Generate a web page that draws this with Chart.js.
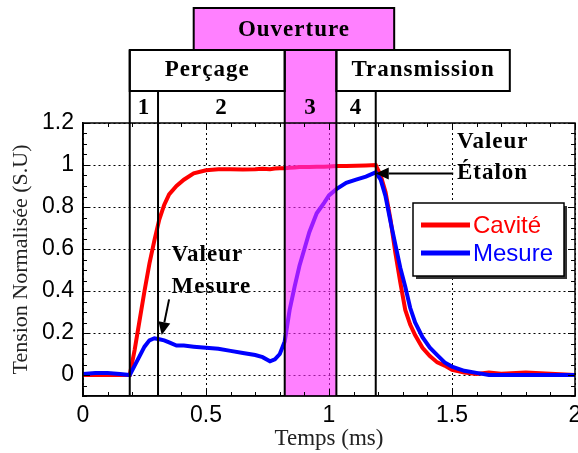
<!DOCTYPE html>
<html>
<head>
<meta charset="utf-8">
<script src="https://cdn.jsdelivr.net/npm/chart.js@4.4.0/dist/chart.umd.min.js"></script>
<style>
body { margin: 0; background: #fff; overflow: hidden; }
#wrap { width: 600px; height: 453px; }
</style>
</head>
<body>
<div id="wrap"><canvas id="tension"></canvas></div>
<script>
// temps (ms) et tensions normalisées
var temps  = [0, 0.05, 0.1, 0.15, 0.19, 0.21, 0.23, 0.25, 0.27, 0.29, 0.31, 0.33, 0.35, 0.38, 0.41, 0.45, 0.5, 0.55, 0.6, 0.65, 0.7, 0.73, 0.76, 0.78, 0.8, 0.82, 0.84, 0.86, 0.88, 0.9, 0.92, 0.95, 0.98, 1.0, 1.03, 1.07, 1.11, 1.15, 1.19, 1.21, 1.23, 1.25, 1.27, 1.29, 1.31, 1.33, 1.35, 1.38, 1.41, 1.44, 1.47, 1.5, 1.55, 1.6, 1.65, 1.7, 1.8, 1.9, 2.0];
var cavite = [0, 0, 0, 0, 0, 0.12, 0.26, 0.40, 0.53, 0.64, 0.74, 0.81, 0.86, 0.90, 0.93, 0.96, 0.975, 0.98, 0.98, 0.978, 0.98, 0.982, 0.98, 0.983, 0.985, 0.985, 0.987, 0.988, 0.99, 0.99, 0.99, 0.992, 0.992, 0.993, 0.995, 0.995, 0.997, 0.998, 1.0, 0.95, 0.87, 0.74, 0.58, 0.44, 0.31, 0.24, 0.19, 0.13, 0.09, 0.06, 0.045, 0.025, 0.012, 0.005, 0.012, 0.006, 0.012, 0.006, 0];
var mesure = [0.005, 0.01, 0.01, 0.005, 0, 0.045, 0.09, 0.135, 0.165, 0.175, 0.17, 0.165, 0.155, 0.14, 0.14, 0.135, 0.13, 0.125, 0.115, 0.105, 0.095, 0.085, 0.065, 0.075, 0.1, 0.16, 0.31, 0.42, 0.52, 0.6, 0.68, 0.77, 0.82, 0.855, 0.885, 0.915, 0.93, 0.945, 0.965, 0.93, 0.85, 0.73, 0.62, 0.51, 0.42, 0.32, 0.25, 0.18, 0.13, 0.095, 0.06, 0.04, 0.02, 0.01, 0, 0, 0, 0, 0];

var xTicks = [0, 0.5, 1, 1.5, 2];
var yTicks = [0, 0.2, 0.4, 0.6, 0.8, 1, 1.2];
var yTickLabels = ['0', '0.2', '0.4', '0.6', '0.8', '1', '1.2'];

// limites des phases 1 | 2 | 3 | 4 (ms)
var phases = [0.19, 0.305, 0.82, 1.03, 1.19];
var phaseNums = ['1', '2', '3', '4'];
var ouverture = [0.45, 1.265];
var percage = [0.19, 0.82];
var transmission = [1.03, 1.735];

var serif = "'Liberation Serif', 'DejaVu Serif', serif";
var sans = "'Liberation Sans', Arial, sans-serif";

function pts(ys) {
    var out = [];
    for (var i = 0; i < temps.length; i++) out.push({x: temps[i], y: ys[i]});
    return out;
}

var decor = {
    id: 'decor',
    afterDatasetsDraw: function(chart) {
        var ctx = chart.ctx, a = chart.chartArea;
        var sx = chart.scales.x, sy = chart.scales.y;
        var px = function(v) { return sx.getPixelForValue(v); };
        var py = function(v) { return sy.getPixelForValue(v); };
        var r0 = 8, r1 = 50, r2 = 91, r3 = a.top;

        ctx.save();
        // bande rose (ouverture)
        ctx.fillStyle = 'rgba(255,43,255,0.6)';
        ctx.beginPath();
        ctx.rect(px(ouverture[0]), r0, px(ouverture[1]) - px(ouverture[0]), r1 - r0);
        ctx.rect(px(phases[2]), r1, px(phases[3]) - px(phases[2]), a.bottom - r1);
        ctx.fill();

        // cadre
        ctx.strokeStyle = '#000';
        ctx.lineWidth = 1.5;
        ctx.strokeRect(a.left, a.top, a.right - a.left, a.bottom - a.top);

        // petites graduations vers l'intérieur
        ctx.lineWidth = 1;
        ctx.beginPath();
        for (var t = 0; t <= 2.0001; t += 0.1) {
            var X = Math.round(px(t)) + 0.5;
            var L = (Math.abs(t * 2 - Math.round(t * 2)) < 1e-6) ? 7 : 4;
            ctx.moveTo(X, a.bottom); ctx.lineTo(X, a.bottom - L);
            ctx.moveTo(X, a.top); ctx.lineTo(X, a.top + L);
        }
        for (var v = -0.1; v <= 1.2001; v += 0.05) {
            var Y = Math.round(py(v)) + 0.5;
            var k = Math.round(v * 100);
            var L2 = (k % 20 === 0) ? 7 : 4;
            ctx.moveTo(a.left, Y); ctx.lineTo(a.left + L2, Y);
            ctx.moveTo(a.right, Y); ctx.lineTo(a.right - L2, Y);
        }
        ctx.stroke();

        // boîtes d'en-tête
        ctx.lineWidth = 2;
        ctx.strokeRect(px(ouverture[0]), r0, px(ouverture[1]) - px(ouverture[0]), r1 - r0);
        ctx.strokeRect(px(percage[0]), r1, px(percage[1]) - px(percage[0]), r2 - r1);
        ctx.strokeRect(px(transmission[0]), r1, px(transmission[1]) - px(transmission[0]), r2 - r1);

        // lignes verticales des phases
        ctx.beginPath();
        var tops = [r1, r2, r1, r1, r2];
        for (var i = 0; i < phases.length; i++) {
            var xx = px(phases[i]);
            ctx.moveTo(xx, tops[i]); ctx.lineTo(xx, a.bottom);
        }
        ctx.stroke();

        // textes d'en-tête
        ctx.fillStyle = '#000';
        ctx.textAlign = 'center';
        ctx.textBaseline = 'middle';
        ctx.letterSpacing = '1px';
        ctx.font = 'bold 23px ' + serif;
        ctx.fillText('Ouverture', (px(ouverture[0]) + px(ouverture[1])) / 2, (r0 + r1) / 2 + 1);
        ctx.fillText('Perçage', (px(percage[0]) + px(percage[1])) / 2, (r1 + r2) / 2);
        ctx.fillText('Transmission', (px(transmission[0]) + px(transmission[1])) / 2, (r1 + r2) / 2);
        for (var j = 0; j < phaseNums.length; j++) {
            ctx.fillText(phaseNums[j], (px(phases[j]) + px(phases[j + 1])) / 2, (r2 + r3) / 2 + 1);
        }

        // annotations
        ctx.textAlign = 'left';
        ctx.fillText('Valeur', px(0.36), py(0.57));
        ctx.fillText('Mesure', px(0.36), py(0.42));
        ctx.fillText('Valeur', px(1.52), py(1.11));
        ctx.fillText('Étalon', px(1.52), py(0.96));
        ctx.letterSpacing = '0px';

        function arrow(x1, y1, x2, y2) {
            var ang = Math.atan2(y2 - y1, x2 - x1);
            var hl = 13, hw = 6;
            ctx.beginPath();
            ctx.moveTo(x1, y1);
            ctx.lineTo(x2 - hl * Math.cos(ang), y2 - hl * Math.sin(ang));
            ctx.stroke();
            ctx.beginPath();
            ctx.moveTo(x2, y2);
            ctx.lineTo(x2 - hl * Math.cos(ang) + hw * Math.sin(ang), y2 - hl * Math.sin(ang) - hw * Math.cos(ang));
            ctx.lineTo(x2 - hl * Math.cos(ang) - hw * Math.sin(ang), y2 - hl * Math.sin(ang) + hw * Math.cos(ang));
            ctx.closePath();
            ctx.fill();
        }
        ctx.lineWidth = 2;
        arrow(px(0.35), py(0.36), px(0.32), py(0.19));
        arrow(px(1.505), py(0.96), px(1.19), py(0.96));

        // légende
        var lx = 413, ly = 203, lw = 151, lh = 73;
        ctx.fillStyle = '#333';
        ctx.fillRect(lx + 3, ly + 3, lw, lh);
        ctx.fillStyle = '#fff';
        ctx.fillRect(lx, ly, lw, lh);
        ctx.lineWidth = 1.5;
        ctx.strokeRect(lx, ly, lw, lh);
        ctx.font = '24px ' + sans;
        ctx.textBaseline = 'middle';
        var ds = chart.data.datasets;
        for (var d = 0; d < ds.length; d++) {
            var yy = ly + 22 + d * 28;
            ctx.strokeStyle = ds[d].borderColor;
            ctx.lineWidth = 5;
            ctx.beginPath();
            ctx.moveTo(lx + 8, yy); ctx.lineTo(lx + 57, yy);
            ctx.stroke();
            ctx.fillStyle = ds[d].borderColor;
            ctx.fillText(ds[d].label, lx + 60, yy + 1);
        }
        ctx.restore();
    }
};

var ctx = document.getElementById('tension');
var chart = new Chart(ctx, {
    type: 'line',
    data: {
        datasets: [{
            label: 'Cavité',
            data: pts(cavite),
            borderColor: 'rgb(255,0,0)',
            borderWidth: 4,
            order: 2
        }, {
            label: 'Mesure',
            data: pts(mesure),
            borderColor: 'rgb(0,0,255)',
            borderWidth: 4,
            order: 1
        }]
    },
    options: {
        responsive: true,
        maintainAspectRatio: false,
        animation: false,
        devicePixelRatio: 1,
        layout: { padding: { top: 123, right: 25, left: 0, bottom: 0 } },
        elements: { point: { radius: 0 }, line: { tension: 0 } },
        plugins: { legend: { display: false }, tooltip: { enabled: false } },
        scales: {
            x: {
                type: 'linear',
                min: 0, max: 2,
                afterBuildTicks: function(s) { s.ticks = xTicks.map(function(v) { return {value: v}; }); },
                afterFit: function(s) { s.height = 57; },
                ticks: {
                    color: '#000',
                    padding: 6,
                    font: { family: sans, size: 23 },
                    callback: function(v) { return String(v); }
                },
                grid: { color: '#000', lineWidth: 1, drawTicks: false },
                border: { display: true, color: '#000', width: 1.5, dash: [2, 3] },
                title: { display: true, text: 'Temps (ms)', color: '#222', font: { family: serif, size: 23 }, padding: { top: 0, bottom: 0 } }
            },
            y: {
                type: 'linear',
                min: -0.1, max: 1.2,
                afterBuildTicks: function(s) { s.ticks = yTicks.map(function(v) { return {value: v}; }); },
                afterFit: function(s) { s.width = 83; },
                ticks: {
                    color: '#000',
                    padding: 9,
                    font: { family: sans, size: 23 },
                    callback: function(v, i) { return yTickLabels[i]; }
                },
                grid: { color: '#000', lineWidth: 1, drawTicks: false },
                border: { display: true, color: '#000', width: 1.5, dash: [2, 3] },
                title: { display: true, text: 'Tension Normalisée (S.U)', color: '#222', font: { family: serif, size: 22 }, padding: { top: 8, bottom: 0 } }
            }
        }
    },
    plugins: [decor]
});
</script>
</body>
</html>
